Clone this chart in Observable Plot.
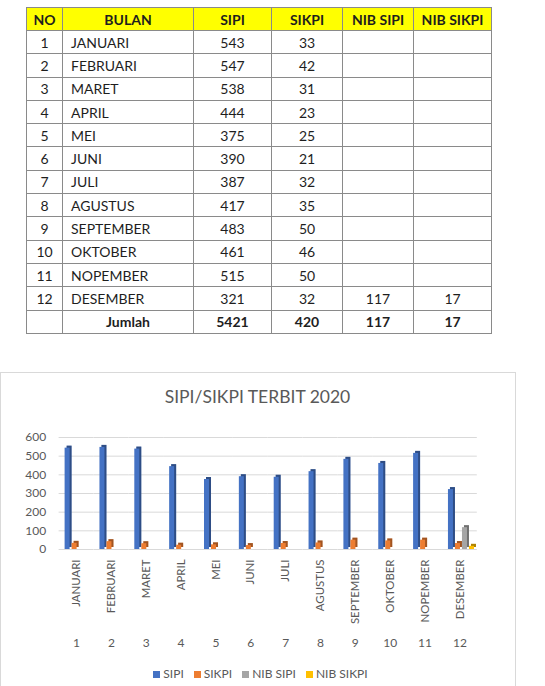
<!DOCTYPE html>
<html><head><meta charset="utf-8">
<script src="https://cdn.jsdelivr.net/npm/d3@7"></script>
<script src="https://cdn.jsdelivr.net/npm/@observablehq/plot@0.6"></script>
<style>
html,body{margin:0;padding:0;background:#fff;}
body{width:545px;height:686px;position:relative;overflow:hidden;font-family:Lato,"Open Sans",sans-serif;}
#tbl{position:absolute;left:26px;top:7px;border-collapse:collapse;table-layout:fixed;font-size:14px;color:#1e1e1e;}
#tbl td,#tbl th{border:1px solid #8a8a8a;padding:0;text-align:center;white-space:nowrap;}
#tbl th{background:#ffff00;font-weight:bold;height:22px;}
#tbl td{height:22.3px;}
#tbl td.m{text-align:left;padding-left:8px;}
#tbl tr.tot td{font-weight:bold;}
#box{position:absolute;left:0;top:372px;width:516px;height:330px;border:1px solid #d9d9d9;box-sizing:border-box;}
#title{position:absolute;left:0;top:386px;width:515px;text-align:center;font-size:17.5px;color:#595959;}
#chart{position:absolute;left:0;top:420px;}
#legend{position:absolute;left:0;top:666px;width:521px;text-align:center;font-size:12px;color:#595959;}
#legend span.it{margin:0 5px;}
#legend i{display:inline-block;width:7px;height:7px;margin-right:3px;vertical-align:0px;}
</style>
</head><body>
<table id="tbl">
<colgroup><col style="width:36px"><col style="width:131px"><col style="width:78px"><col style="width:71px"><col style="width:71px"><col style="width:78px"></colgroup>
<thead></thead><tbody></tbody>
</table>
<div id="box"></div>
<div id="title">SIPI/SIKPI TERBIT 2020</div>
<div id="chart"></div>
<div id="legend"></div>
<script>
const headers = ["NO", "BULAN", "SIPI", "SIKPI", "NIB SIPI", "NIB SIKPI"];
const no = [1, 2, 3, 4, 5, 6, 7, 8, 9, 10, 11, 12];
const months = ["JANUARI", "FEBRUARI", "MARET", "APRIL", "MEI", "JUNI", "JULI", "AGUSTUS", "SEPTEMBER", "OKTOBER", "NOPEMBER", "DESEMBER"];
const sipi = [543, 547, 538, 444, 375, 390, 387, 417, 483, 461, 515, 321];
const sikpi = [33, 42, 31, 23, 25, 21, 32, 35, 50, 46, 50, 32];
const nibSipi = [null, null, null, null, null, null, null, null, null, null, null, 117];
const nibSikpi = [null, null, null, null, null, null, null, null, null, null, null, 17];
const totalLabel = "Jumlah";
const totals = [5421, 420, 117, 17];
const seriesNames = ["SIPI", "SIKPI", "NIB SIPI", "NIB SIKPI"];
const seriesColors = ["#4472C4", "#ED7D31", "#A5A5A5", "#FFC000"];
const yTicks = [0, 100, 200, 300, 400, 500, 600];
const chartTitle = "SIPI/SIKPI TERBIT 2020";

// table
const thead = document.querySelector("#tbl thead");
thead.innerHTML = "<tr>" + headers.map(h => `<th>${h}</th>`).join("") + "</tr>";
const tbody = document.querySelector("#tbl tbody");
let rows = "";
no.forEach((n, i) => {
  rows += `<tr><td>${n}</td><td class="m">${months[i]}</td><td>${sipi[i]}</td><td>${sikpi[i]}</td><td>${nibSipi[i] ?? ""}</td><td>${nibSikpi[i] ?? ""}</td></tr>`;
});
rows += `<tr class="tot"><td></td><td>${totalLabel}</td>` + totals.map(t => `<td>${t}</td>`).join("") + "</tr>";
tbody.innerHTML = rows;

// chart data
const seriesArrays = [sipi, sikpi, nibSipi, nibSikpi];
const data = [];
no.forEach((n, i) => {
  seriesArrays.forEach((arr, j) => {
    if (arr[i] != null) data.push({no: n, series: seriesNames[j], value: arr[i]});
  });
});

const font = "Lato, 'Open Sans', sans-serif";
const chart = Plot.plot({
  width: 515,
  height: 240,
  marginTop: 17,
  marginBottom: 111,
  marginLeft: 58.6,
  marginRight: 38.2,
  style: {fontFamily: font, fontSize: "12px", color: "#595959", background: "transparent", overflow: "visible"},
  fx: {domain: no, padding: 0, round: false, label: null},
  x: {domain: seriesNames, paddingInner: 0.286, paddingOuter: 0.63, align: 0.68, round: false, axis: null},
  y: {domain: [0, 600], axis: null},
  color: {domain: seriesNames, range: seriesColors},
  marks: [
    Plot.gridY(yTicks, {stroke: "#d9d9d9", strokeOpacity: 1}),
    Plot.axisY(yTicks, {tickSize: 0, tickPadding: 13, label: null, fill: "#595959", fontSize: 12}),
    Plot.barY(data, {fx: "no", x: "series", y: "value", fill: "series", dx: 2, dy: -2}),
    Plot.barY(data, {fx: "no", x: "series", y: "value", fill: "#000", fillOpacity: 0.32, dx: 2, dy: -2}),
    Plot.barY(data, {fx: "no", x: "series", y: "value", fill: "series"}),
    Plot.axisFx({anchor: "bottom", tickRotate: -90, tickFormat: d => months[d - 1], tickSize: 0, tickPadding: 10, label: null, fill: "#595959", fontSize: 11.4}),
    Plot.axisFx({anchor: "bottom", tickFormat: d => String(d), tickSize: 0, tickPadding: 89, label: null, fill: "#595959", fontSize: 12})
  ]
});
document.getElementById("chart").appendChild(chart);
document.getElementById("title").textContent = chartTitle;

// legend
document.getElementById("legend").innerHTML = seriesNames.map((s, i) =>
  `<span class="it"><i style="background:${seriesColors[i]}"></i>${s}</span>`).join("");
</script>
</body></html>
